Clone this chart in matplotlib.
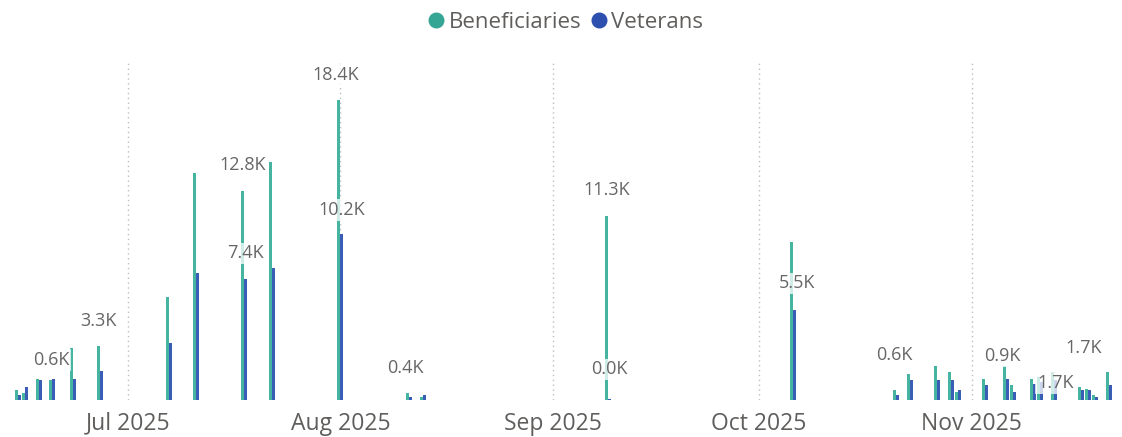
import numpy as np
import pandas as pd
import matplotlib
matplotlib.use("Agg")
import matplotlib.pyplot as plt
import matplotlib.dates as mdates
from matplotlib.lines import Line2D

# ------------------------------
# Data (thousands)
# ------------------------------

days = ["2025-06-15", "2025-06-16", "2025-06-18", "2025-06-20", "2025-06-23",
        "2025-06-27", "2025-07-07", "2025-07-11", "2025-07-18", "2025-07-22",
        "2025-08-01", "2025-08-11", "2025-08-13", "2025-09-09", "2025-10-06",
        "2025-10-21", "2025-10-23", "2025-10-27", "2025-10-29", "2025-10-30",
        "2025-11-03", "2025-11-06", "2025-11-07", "2025-11-10", "2025-11-11",
        "2025-11-13", "2025-11-17", "2025-11-18", "2025-11-19", "2025-11-21"]
beneficiaries = [0.6, 0.4, 1.3, 1.2, 3.2, 3.3, 6.3, 13.9, 12.8, 14.6,
                 18.4, 0.4, 0.2, 11.3, 9.7,
                 0.6, 1.6, 2.1, 1.7, 0.5,
                 1.3, 2.1, 0.9, 1.3, 1.4,
                 1.7, 0.8, 0.7, 0.3, 1.7]
veterans = [0.3, 0.8, 1.2, 1.3, 1.3, 1.8, 3.5, 7.8, 7.4, 8.1,
            10.2, 0.2, 0.3, 0.04, 5.5,
            0.3, 1.2, 1.2, 1.2, 0.6,
            0.9, 1.3, 0.5, 1.0, 1.1,
            1.2, 0.6, 0.6, 0.2, 0.9]
series_names = ["Beneficiaries", "Veterans"]

# labelled points: (day, series index, dx px, dy px)
labels = [("2025-06-15", 0, 35, 30), ("2025-06-27", 0, 0, 25),
          ("2025-07-18", 0, 0, 26), ("2025-07-18", 1, 0, 26),
          ("2025-08-01", 0, -3, 25), ("2025-08-01", 1, 0, 24),
          ("2025-08-11", 0, -2, 25), ("2025-09-09", 0, 0, 26),
          ("2025-09-09", 1, 0, 30), ("2025-10-06", 1, 2, 27),
          ("2025-10-21", 0, 0, 35), ("2025-11-07", 0, -9, 29),
          ("2025-11-21", 0, -24, 24), ("2025-11-13", 0, 3, -11)]

# ------------------------------
# Style
# ------------------------------

plt.rcParams["font.family"] = ["Open Sans", "DejaVu Sans"]
c_ben = "#45B5A2"
c_vet = "#3A5DB6"
grey = "#605E5C"

x = mdates.date2num(pd.to_datetime(days))
ben = np.array(beneficiaries)
vet = np.array(veterans)
w = 0.44

fig = plt.figure(figsize=(11.22, 4.37), dpi=100)
ax = fig.add_axes([10 / 1122, 37 / 437, 1108 / 1122, 340 / 437])

ax.bar(x - w / 2, ben, width=w, color=c_ben, zorder=2)
ax.bar(x + w / 2, vet, width=w, color=c_vet, zorder=2)

ax.set_xlim(mdates.date2num(pd.Timestamp("2025-06-13 20:00")),
            mdates.date2num(pd.Timestamp("2025-11-22 08:00")))
ax.set_ylim(0, 20.86)

months = pd.date_range("2025-07-01", "2025-11-01", freq="MS")
ax.set_xticks(mdates.date2num(months))
ax.xaxis.set_major_formatter(mdates.DateFormatter("%b %Y"))
ax.tick_params(axis="x", length=0, pad=8.5, labelsize=16.5, labelcolor=grey)
ax.set_yticks([])
for m in mdates.date2num(months):
    ax.axvline(m, color="#BDBDBD", lw=1, ls=(0, (1, 2.5)), zorder=1)
for s in ax.spines.values():
    s.set_visible(False)

day_idx = {d: i for i, d in enumerate(days)}
for d, s, dx, dy in labels:
    i = day_idx[d]
    val = ben[i] if s == 0 else vet[i]
    xx = x[i] - w / 2 if s == 0 else x[i] + w / 2
    ax.annotate(f"{val:.1f}K", (xx, val), xytext=(dx, dy),
                textcoords="offset pixels", ha="center", va="center",
                fontsize=13, color="#666666", zorder=4,
                bbox=dict(boxstyle="square,pad=0.1", fc="white",
                          ec="none", alpha=0.75))

handles = [Line2D([], [], ls="", marker="o", ms=10.5, color=c)
           for c in ["#35A693", "#2D4FAE"]]
fig.legend(handles, series_names, loc="center", bbox_to_anchor=(0.503, 0.948),
           ncol=2, frameon=False, handletextpad=0.05, columnspacing=0.3,
           fontsize=16, labelcolor=grey, handlelength=1.0)

plt.savefig("out.png", dpi=100)
